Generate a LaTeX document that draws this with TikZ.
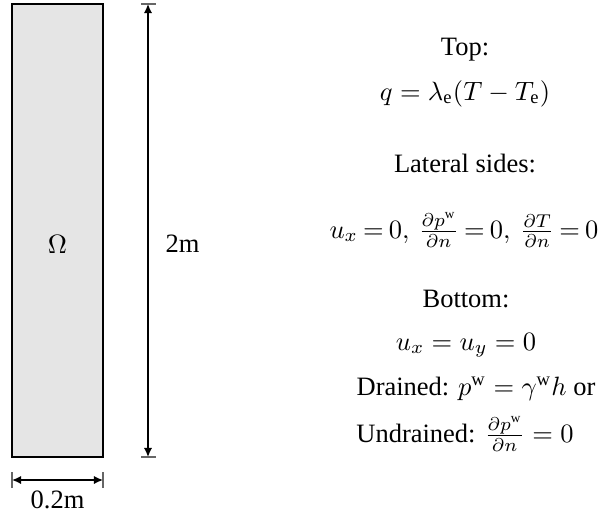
\documentclass[tikz,border=0pt]{standalone}
\usepackage{amsmath}
\usepackage{fontspec}
\setmainfont{Liberation Serif}
\usepackage{tikz}
\usetikzlibrary{arrows.meta,positioning,calc}
\definecolor{domc}{HTML}{E5E5E5}
\tikzset{
  dim/.style={{Latex[length=1.2mm,width=1.1mm]}-{Latex[length=1.2mm,width=1.1mm]},semithick},
  tk/.style={thin,gray!80!black},
  lbl/.style={anchor=base,inner sep=0pt}
}

\begin{document}
\begin{tikzpicture}[x=0.3775pt,y=0.3775pt]
\useasboundingbox (0,0) rectangle (601,518);
% domain
\draw[fill=domc,semithick] (12,61) rectangle (103,514);
\node (om) at (57.5,274) {$\Omega$};
% height
\coordinate (ht) at (148,514); \coordinate (hb) at (148,61);
\draw[tk] (141,514)--(156,514); \draw[tk] (141,61)--(156,61);
\draw[dim] (hb)--(ht);
\node[anchor=west,inner sep=0pt] (hlab) at (165,274) {2m};
% width
\coordinate (wl) at (12,38); \coordinate (wr) at (103,38);
\draw[tk] (12,30)--(12,46); \draw[tk] (103,30)--(103,46);
\draw[dim] (wl)--(wr);
\node[below=4pt of $(wl)!0.5!(wr)$,inner sep=0pt] (wlab) {0.2m};
% boundary conditions
\node[lbl] (top) at (465,463) {Top:};
\node[lbl] (topeq) at (465,418) {$q=\lambda_{\mathrm{e}}(T-T_{\mathrm{e}})$};
\node[lbl] (lat) at (465,346) {Lateral sides:};
\node[lbl] (lateq) at (464,280) {\thickmuskip=3.5mu$u_x=0,\,\frac{\partial p^{\mathrm{w}}}{\partial n}=0,\;\frac{\partial T}{\partial n}=0$};
\node[lbl] (bot) at (466,211) {Bottom:};
\node[lbl] (boteq) at (466,168) {$u_x=u_y=0$};
\node[lbl] (drn) at (476,123) {Drained: $p^{\mathrm{w}}=\gamma^{\mathrm{w}}h$ or};
\node[lbl] (udrn) at (465,76) {Undrained: $\frac{\partial p^{\mathrm{w}}}{\partial n}=0$};
\end{tikzpicture}
\end{document}
